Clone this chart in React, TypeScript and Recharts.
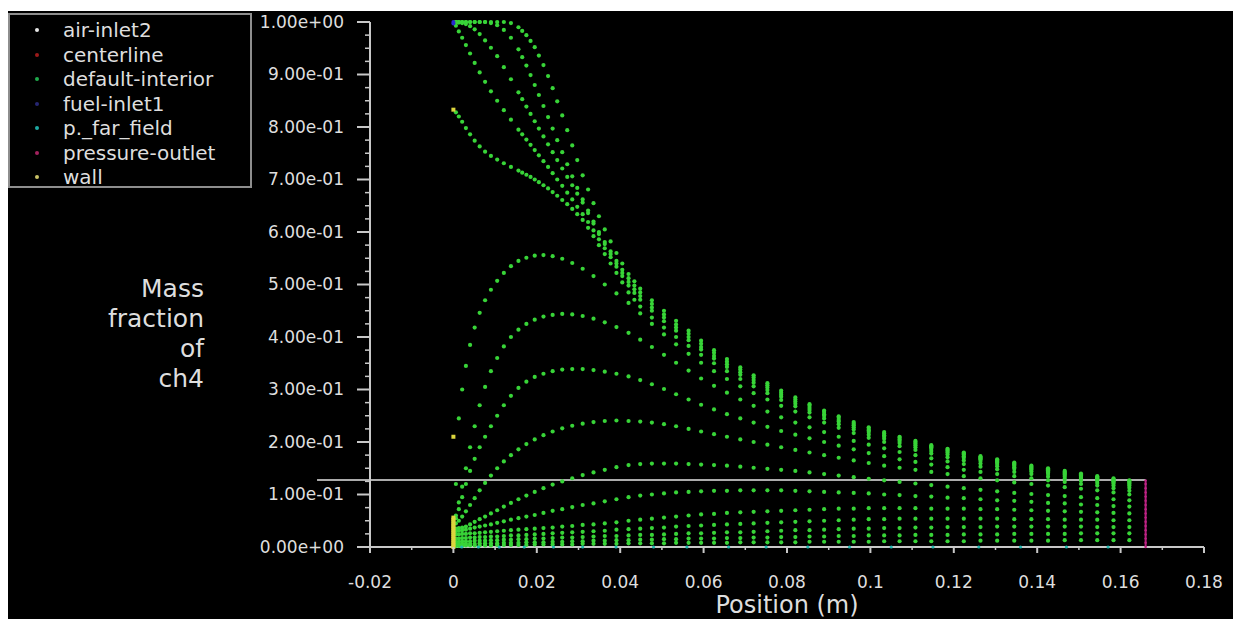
import React from "react";
import { ScatterChart, Scatter, XAxis, YAxis, ReferenceLine, Legend } from "recharts";

// axial cell-column positions (m)
const colX = [
  0.0006, 0.0013, 0.0021, 0.003, 0.004, 0.0051, 0.0063, 0.0076, 0.009, 0.0105,
  0.0121, 0.0138, 0.0156, 0.0175, 0.0195, 0.0216, 0.0238, 0.0261, 0.0285, 0.031,
  0.0336, 0.0363, 0.0391, 0.042, 0.0448, 0.0476, 0.0505, 0.0534, 0.0564, 0.0594,
  0.0625, 0.0656, 0.0688, 0.072, 0.0753, 0.0786, 0.082, 0.0854, 0.0889, 0.0924,
  0.096, 0.0996, 0.1033, 0.107, 0.1108, 0.1146, 0.1185, 0.1224, 0.1264, 0.1304,
  0.1345, 0.1386, 0.1426, 0.1466, 0.1505, 0.1544, 0.1583, 0.1621,
];

// finer columns used by the upper (fuel-jet) rows, denser where they fall steeply
const topColX = [
  0.0006, 0.0013, 0.0021, 0.003, 0.004, 0.0051, 0.0063, 0.0076, 0.009, 0.0105,
  0.0121, 0.0138, 0.0156, 0.0165, 0.0175, 0.0185, 0.0195, 0.0205, 0.0216, 0.0227,
  0.0238, 0.0249, 0.0261, 0.0273, 0.0285, 0.0297, 0.031, 0.0323, 0.0336, 0.0349,
  0.0363, 0.0377, 0.0391, 0.0405, 0.042, 0.0434, 0.0448, 0.0476, 0.0505, 0.0534,
  0.0564, 0.0594, 0.0625, 0.0656, 0.0688, 0.072, 0.0753, 0.0786, 0.082, 0.0854,
  0.0889, 0.0924, 0.096, 0.0996, 0.1033, 0.107, 0.1108, 0.1146, 0.1185, 0.1224,
  0.1264, 0.1304, 0.1345, 0.1386, 0.1426, 0.1466, 0.1505, 0.1544, 0.1583, 0.1621,
];

// ch4 mass fraction, upper rows (on topColX)
const rowT1 = [
  1, 1, 1, 1, 1, 1, 1, 1, 1, 1,
  1, 0.998, 0.99, 0.983, 0.975, 0.964, 0.952, 0.936, 0.918, 0.897,
  0.874, 0.849, 0.822, 0.794, 0.765, 0.737, 0.708, 0.681, 0.655, 0.63,
  0.605, 0.582, 0.56, 0.54, 0.52, 0.506, 0.492, 0.47, 0.45, 0.431,
  0.412, 0.393, 0.375, 0.358, 0.342, 0.327, 0.312, 0.298, 0.285, 0.272,
  0.26, 0.249, 0.238, 0.228, 0.219, 0.21, 0.202, 0.194, 0.187, 0.18,
  0.173, 0.167, 0.161, 0.155, 0.15, 0.145, 0.14, 0.135, 0.131, 0.127,
];
const rowT2 = [
  1, 1, 1, 1, 1, 1, 1, 1, 0.998, 0.994,
  0.985, 0.97, 0.948, 0.933, 0.917, 0.899, 0.88, 0.861, 0.84, 0.819,
  0.797, 0.775, 0.752, 0.729, 0.706, 0.684, 0.662, 0.641, 0.62, 0.6,
  0.581, 0.563, 0.545, 0.528, 0.512, 0.498, 0.485, 0.463, 0.443, 0.424,
  0.406, 0.387, 0.37, 0.353, 0.338, 0.323, 0.308, 0.294, 0.281, 0.269,
  0.257, 0.246, 0.235, 0.225, 0.216, 0.208, 0.2, 0.192, 0.185, 0.178,
  0.171, 0.165, 0.159, 0.153, 0.148, 0.143, 0.138, 0.133, 0.129, 0.126,
];
const rowT3 = [
  1, 0.999, 0.998, 0.996, 0.992, 0.986, 0.977, 0.965, 0.951, 0.935,
  0.914, 0.891, 0.866, 0.853, 0.839, 0.825, 0.811, 0.797, 0.782, 0.767,
  0.752, 0.737, 0.721, 0.705, 0.689, 0.673, 0.656, 0.636, 0.616, 0.596,
  0.577, 0.558, 0.54, 0.522, 0.505, 0.491, 0.478, 0.456, 0.437, 0.418,
  0.4, 0.381, 0.364, 0.348, 0.333, 0.318, 0.304, 0.29, 0.277, 0.265,
  0.253, 0.242, 0.232, 0.222, 0.213, 0.205, 0.197, 0.19, 0.183, 0.176,
  0.169, 0.163, 0.157, 0.151, 0.146, 0.141, 0.136, 0.131, 0.127, 0.124,
];
const rowT4 = [
  0.993, 0.982, 0.97, 0.956, 0.94, 0.922, 0.904, 0.886, 0.868, 0.85,
  0.832, 0.814, 0.795, 0.786, 0.776, 0.766, 0.756, 0.746, 0.735, 0.724,
  0.712, 0.7, 0.688, 0.675, 0.662, 0.648, 0.634, 0.619, 0.603, 0.586,
  0.569, 0.552, 0.534, 0.516, 0.498, 0.484, 0.471, 0.45, 0.43, 0.412,
  0.394, 0.376, 0.359, 0.343, 0.328, 0.313, 0.299, 0.286, 0.273, 0.261,
  0.25, 0.239, 0.228, 0.219, 0.21, 0.202, 0.194, 0.187, 0.18, 0.173,
  0.167, 0.161, 0.155, 0.149, 0.144, 0.139, 0.134, 0.129, 0.125, 0.122,
];
const rowE = [
  0.828, 0.82, 0.81, 0.798, 0.786, 0.774, 0.763, 0.753, 0.745, 0.738,
  0.731, 0.724, 0.717, 0.713, 0.709, 0.705, 0.7, 0.695, 0.689, 0.683,
  0.676, 0.669, 0.661, 0.653, 0.644, 0.634, 0.623, 0.608, 0.592, 0.575,
  0.558, 0.54, 0.522, 0.504, 0.485, 0.471, 0.458, 0.437, 0.418, 0.4,
  0.383, 0.366, 0.35, 0.335, 0.32, 0.306, 0.293, 0.28, 0.268, 0.256,
  0.245, 0.234, 0.224, 0.214, 0.206, 0.198, 0.19, 0.183, 0.176, 0.17,
  0.164, 0.158, 0.152, 0.147, 0.142, 0.137, 0.132, 0.128, 0.124, 0.12,
];

// ch4 mass fraction, lower rows (on colX)
const rowM1 = [
  0.12, 0.245, 0.3, 0.345, 0.385, 0.418, 0.446, 0.47, 0.49, 0.507,
  0.522, 0.535, 0.545, 0.551, 0.555, 0.556, 0.554, 0.549, 0.541, 0.53,
  0.516, 0.5, 0.483, 0.465, 0.445, 0.425, 0.405, 0.386, 0.368, 0.351,
  0.335, 0.32, 0.306, 0.293, 0.281, 0.269, 0.258, 0.247, 0.237, 0.227,
  0.217, 0.208, 0.2, 0.192, 0.185, 0.178, 0.171, 0.165, 0.159, 0.154,
  0.149, 0.144, 0.139, 0.134, 0.13, 0.126, 0.121, 0.117,
];
const rowM2 = [
  0.06, 0.085, 0.115, 0.15, 0.19, 0.23, 0.27, 0.305, 0.335, 0.36,
  0.382, 0.4, 0.414, 0.425, 0.433, 0.439, 0.442, 0.444, 0.443, 0.44,
  0.435, 0.428, 0.419, 0.408, 0.395, 0.381, 0.366, 0.351, 0.336, 0.321,
  0.307, 0.294, 0.281, 0.269, 0.258, 0.247, 0.237, 0.228, 0.219, 0.21,
  0.202, 0.195, 0.188, 0.181, 0.175, 0.169, 0.163, 0.158, 0.153, 0.148,
  0.143, 0.139, 0.134, 0.13, 0.126, 0.122, 0.117, 0.113,
];
const rowM3 = [
  0.055, 0.072, 0.095, 0.12, 0.145, 0.168, 0.19, 0.21, 0.23, 0.25,
  0.27, 0.288, 0.303, 0.315, 0.324, 0.33, 0.335, 0.338, 0.339, 0.339,
  0.337, 0.334, 0.33, 0.325, 0.318, 0.31, 0.301, 0.291, 0.281, 0.271,
  0.262, 0.253, 0.245, 0.237, 0.229, 0.221, 0.214, 0.207, 0.2, 0.193,
  0.186, 0.179, 0.173, 0.167, 0.162, 0.157, 0.152, 0.147, 0.143, 0.139,
  0.135, 0.131, 0.127, 0.124, 0.12, 0.117, 0.112, 0.107,
];
const rowM4 = [
  0.045, 0.05, 0.058, 0.068, 0.08, 0.093, 0.108, 0.122, 0.136, 0.15,
  0.163, 0.175, 0.186, 0.196, 0.205, 0.213, 0.22, 0.226, 0.231, 0.235,
  0.238, 0.24, 0.241, 0.24, 0.239, 0.237, 0.234, 0.23, 0.225, 0.22,
  0.215, 0.21, 0.205, 0.2, 0.195, 0.19, 0.185, 0.18, 0.175, 0.17,
  0.165, 0.16, 0.155, 0.151, 0.147, 0.143, 0.139, 0.135, 0.131, 0.127,
  0.123, 0.12, 0.117, 0.114, 0.111, 0.108, 0.104, 0.1,
];
const rowM5 = [
  0.035, 0.036, 0.037, 0.039, 0.043, 0.048, 0.053, 0.058, 0.064, 0.07,
  0.077, 0.084, 0.091, 0.098, 0.105, 0.112, 0.119, 0.125, 0.131, 0.137,
  0.142, 0.147, 0.152, 0.156, 0.158, 0.159, 0.159, 0.159, 0.158, 0.157,
  0.156, 0.155, 0.153, 0.151, 0.149, 0.147, 0.145, 0.142, 0.139, 0.136,
  0.133, 0.13, 0.127, 0.124, 0.121, 0.118, 0.115, 0.112, 0.109, 0.106,
  0.103, 0.101, 0.099, 0.097, 0.095, 0.093, 0.091, 0.089,
];
const rowM6 = [
  0.03, 0.031, 0.032, 0.033, 0.035, 0.037, 0.039, 0.041, 0.043, 0.046,
  0.049, 0.052, 0.055, 0.058, 0.061, 0.065, 0.069, 0.072, 0.076, 0.08,
  0.083, 0.087, 0.091, 0.095, 0.098, 0.1, 0.102, 0.104, 0.105, 0.106,
  0.107, 0.107, 0.108, 0.108, 0.108, 0.108, 0.107, 0.106, 0.105, 0.104,
  0.103, 0.102, 0.1, 0.099, 0.097, 0.096, 0.094, 0.093, 0.091, 0.089,
  0.088, 0.086, 0.084, 0.083, 0.081, 0.08, 0.078, 0.077,
];
const rowM7 = [
  0.024, 0.024, 0.025, 0.025, 0.026, 0.026, 0.027, 0.028, 0.029, 0.03,
  0.031, 0.032, 0.033, 0.034, 0.035, 0.036, 0.037, 0.039, 0.04, 0.042,
  0.043, 0.045, 0.047, 0.05, 0.052, 0.054, 0.056, 0.058, 0.06, 0.062,
  0.063, 0.065, 0.066, 0.067, 0.068, 0.069, 0.07, 0.071, 0.072, 0.073,
  0.073, 0.074, 0.074, 0.074, 0.074, 0.073, 0.073, 0.073, 0.072, 0.072,
  0.071, 0.07, 0.069, 0.068, 0.067, 0.066, 0.065, 0.064,
];
const rowM8 = [
  0.016, 0.016, 0.017, 0.017, 0.018, 0.018, 0.019, 0.019, 0.02, 0.02,
  0.021, 0.022, 0.022, 0.023, 0.024, 0.025, 0.026, 0.027, 0.028, 0.029,
  0.03, 0.031, 0.033, 0.034, 0.035, 0.036, 0.037, 0.039, 0.04, 0.041,
  0.042, 0.043, 0.044, 0.045, 0.046, 0.047, 0.048, 0.049, 0.05, 0.051,
  0.052, 0.053, 0.053, 0.054, 0.054, 0.054, 0.054, 0.054, 0.054, 0.054,
  0.053, 0.053, 0.053, 0.052, 0.052, 0.052, 0.051, 0.051,
];
const rowB1 = [
  0.01, 0.01, 0.011, 0.011, 0.011, 0.012, 0.012, 0.012, 0.013, 0.013,
  0.014, 0.014, 0.015, 0.015, 0.016, 0.016, 0.017, 0.018, 0.018, 0.019,
  0.02, 0.021, 0.021, 0.022, 0.023, 0.023, 0.024, 0.025, 0.026, 0.026,
  0.027, 0.028, 0.028, 0.029, 0.03, 0.031, 0.032, 0.032, 0.033, 0.034,
  0.035, 0.035, 0.036, 0.036, 0.037, 0.037, 0.038, 0.038, 0.038, 0.039,
  0.039, 0.039, 0.039, 0.039, 0.039, 0.038, 0.038, 0.038,
];
const rowB2 = [
  0.005, 0.005, 0.006, 0.006, 0.006, 0.006, 0.007, 0.007, 0.007, 0.007,
  0.008, 0.008, 0.008, 0.009, 0.009, 0.009, 0.01, 0.01, 0.011, 0.011,
  0.012, 0.012, 0.013, 0.013, 0.014, 0.014, 0.015, 0.015, 0.016, 0.016,
  0.016, 0.017, 0.017, 0.018, 0.018, 0.019, 0.019, 0.02, 0.02, 0.021,
  0.021, 0.022, 0.022, 0.022, 0.023, 0.023, 0.023, 0.024, 0.024, 0.024,
  0.025, 0.025, 0.025, 0.025, 0.026, 0.026, 0.026, 0.026,
];
const rowB3 = [
  0.002, 0.002, 0.002, 0.003, 0.003, 0.003, 0.003, 0.003, 0.003, 0.004,
  0.004, 0.004, 0.004, 0.004, 0.005, 0.005, 0.005, 0.005, 0.005, 0.006,
  0.006, 0.006, 0.006, 0.007, 0.007, 0.007, 0.007, 0.008, 0.008, 0.008,
  0.008, 0.008, 0.009, 0.009, 0.009, 0.009, 0.009, 0.01, 0.01, 0.01,
  0.01, 0.01, 0.011, 0.011, 0.011, 0.011, 0.011, 0.011, 0.012, 0.012,
  0.012, 0.012, 0.012, 0.013, 0.013, 0.013, 0.013, 0.013,
];

const upperRows = [rowT1, rowT2, rowT3, rowT4, rowE];
const lowerRows = [rowM1, rowM2, rowM3, rowM4, rowM5, rowM6, rowM7, rowM8, rowB1, rowB2, rowB3];

// boundary zones
const wallY = [0, 0.004, 0.008, 0.012, 0.016, 0.02, 0.024, 0.028, 0.032, 0.036, 0.04, 0.044, 0.048, 0.052, 0.056, 0.21, 0.833];
const fuelInletY = [1.0, 0.997];
const farFieldX = [
  0.002, 0.006, 0.011, 0.017, 0.024, 0.031, 0.039, 0.048, 0.056, 0.066,
  0.075, 0.085, 0.095, 0.105, 0.115, 0.126, 0.136, 0.147, 0.157,
];
const outletX = 0.166;
const outletY = [0, 0.008, 0.016, 0.024, 0.032, 0.04, 0.048, 0.056, 0.064, 0.072, 0.08, 0.088, 0.096, 0.104, 0.112, 0.12, 0.127];
const airInletX = [-0.0327, 0.166];
const airInletLevel = 0.1276;

const legendNames = ["air-inlet2", "centerline", "default-interior", "fuel-inlet1", "p._far_field", "pressure-outlet", "wall"];
const legendColors = ["#e6e6e6", "#9c1a1a", "#1faa4c", "#262672", "#1ea8a2", "#a3225e", "#c9c266"];

const yMajorTicks = [0, 0.1, 0.2, 0.3, 0.4, 0.5, 0.6, 0.7, 0.8, 0.9, 1.0];
const yTickLabels = [
  "0.00e+00", "1.00e-01", "2.00e-01", "3.00e-01", "4.00e-01", "5.00e-01",
  "6.00e-01", "7.00e-01", "8.00e-01", "9.00e-01", "1.00e+00",
];
const yMinorTicks = yMajorTicks.slice(0, -1).flatMap((v) => [v + 0.025, v + 0.05, v + 0.075]);
const xMajorTicks = [-0.02, 0, 0.02, 0.04, 0.06, 0.08, 0.1, 0.12, 0.14, 0.16, 0.18];
const xTickLabels = ["-0.02", "0", "0.02", "0.04", "0.06", "0.08", "0.1", "0.12", "0.14", "0.16", "0.18"];
const xMinorTicks = [-0.01, 0.01, 0.03, 0.05, 0.07, 0.09, 0.11, 0.13, 0.15, 0.17];
const yLabelLines = ["Mass", "fraction", "of", "ch4"];

const interiorData = [
  ...upperRows.flatMap((row) => row.map((y, i) => ({ x: topColX[i], y }))),
  ...lowerRows.flatMap((row) => row.map((y, i) => ({ x: colX[i], y }))),
];
const wallData = wallY.map((y) => ({ x: 0, y }));
const fuelData = fuelInletY.map((y) => ({ x: 0, y }));
const farFieldData = farFieldX.map((x) => ({ x, y: 0 }));
const outletData = outletY.map((y) => ({ x: outletX, y }));

const FONT = "DejaVu Sans, sans-serif";
const AXIS = "#c8c8c8";
const TEXT = "#dedede";
const GREEN = "#38d438";

const near = (list: number[], v: number) => list.findIndex((t) => Math.abs(t - v) < 1e-6);

const YTick = ({ x, y, payload }: any) => {
  const i = near(yMajorTicks, payload.value);
  if (i < 0) return <line x1={x - 5} y1={y} x2={x} y2={y} stroke={AXIS} strokeWidth={1.5} />;
  return (
    <g>
      <line x1={x - 13} y1={y} x2={x} y2={y} stroke={AXIS} strokeWidth={2} />
      <text x={x - 26} y={y} dy="0.35em" textAnchor="end" fill={TEXT} fontSize={17} fontFamily={FONT}>
        {yTickLabels[i]}
      </text>
    </g>
  );
};

const XTick = ({ x, y, payload }: any) => {
  const i = near(xMajorTicks, payload.value);
  if (i < 0) return <line x1={x} y1={y} x2={x} y2={y + 3} stroke={AXIS} strokeWidth={1.5} />;
  return (
    <g>
      <line x1={x} y1={y} x2={x} y2={y + 6} stroke={AXIS} strokeWidth={2} />
      <text x={x} y={y + 35} dy="0.35em" textAnchor="middle" fill={TEXT} fontSize={17} fontFamily={FONT}>
        {xTickLabels[i]}
      </text>
    </g>
  );
};

const XLabel = (props: any) => {
  const vb = props.viewBox || { x: 362, y: 536, width: 834 };
  return (
    <text x={vb.x + vb.width / 2} y={vb.y + 66} textAnchor="middle" fill={TEXT} fontSize={24} fontFamily={FONT}>
      Position (m)
    </text>
  );
};

const YLabel = () => (
  <text textAnchor="end" fill={TEXT} fontSize={25} fontFamily={FONT}>
    {yLabelLines.map((s, i) => (
      <tspan key={s} x={196} y={286 + i * 30}>
        {s}
      </tspan>
    ))}
  </text>
);

const LegendBox = () => (
  <div
    style={{
      position: "relative",
      width: 244,
      height: 175,
      boxSizing: "border-box",
      border: "2px solid #8e8e8e",
      background: "#000",
      fontFamily: FONT,
      fontSize: 20,
      color: TEXT,
    }}
  >
    {legendNames.map((name, i) => (
      <div key={name} style={{ position: "absolute", left: 0, top: 3 + i * 24.5, height: 24, width: 240 }}>
        <span
          style={{
            position: "absolute",
            left: 25,
            top: 10,
            width: 4,
            height: 4,
            borderRadius: 2,
            background: legendColors[i],
          }}
        />
        <span style={{ position: "absolute", left: 53, top: 0, lineHeight: "24px", whiteSpace: "nowrap" }}>{name}</span>
      </div>
    ))}
  </div>
);

const dot = (r: number, fill: string) => (p: any) => <circle cx={p.cx} cy={p.cy} r={r} fill={fill} />;
const square = (s: number, fill: string) => (p: any) => <rect x={p.cx - s / 2} y={p.cy - s / 2} width={s} height={s} fill={fill} />;

export default function App() {
  return (
    <div style={{ position: "absolute", left: 8, top: 11, width: 1225, height: 608, background: "#000" }}>
      <ScatterChart width={1225} height={608} margin={{ top: 11, right: 29, bottom: 0, left: 0 }}>
        <XAxis
          type="number"
          dataKey="x"
          domain={[-0.02, 0.18]}
          ticks={[...xMajorTicks, ...xMinorTicks].sort((a, b) => a - b)}
          interval={0}
          height={72}
          tickSize={0}
          tickMargin={0}
          tickLine={false}
          axisLine={{ stroke: AXIS, strokeWidth: 2 }}
          tick={<XTick />}
          label={<XLabel />}
        />
        <YAxis
          type="number"
          dataKey="y"
          domain={[0, 1]}
          ticks={[...yMajorTicks, ...yMinorTicks].sort((a, b) => a - b)}
          interval={0}
          width={362}
          tickSize={0}
          tickMargin={0}
          tickLine={false}
          axisLine={{ stroke: AXIS, strokeWidth: 2 }}
          tick={<YTick />}
          label={<YLabel />}
        />
        <ReferenceLine
          segment={[
            { x: airInletX[0], y: airInletLevel },
            { x: airInletX[1], y: airInletLevel },
          ]}
          stroke="#ababab"
          strokeWidth={2}
          ifOverflow="visible"
        />
        <Scatter name="default-interior" data={interiorData} shape={dot(2.1, GREEN)} isAnimationActive={false} />
        <Scatter name="p._far_field" data={farFieldData} shape={dot(1.6, "#22b8b0")} isAnimationActive={false} />
        <Scatter
          name="pressure-outlet"
          data={outletData}
          line={{ stroke: "#b5207e", strokeWidth: 2 }}
          shape={dot(1.2, "#c02486")}
          isAnimationActive={false}
        />
        <Scatter name="wall" data={wallData} shape={square(4, "#dcd63e")} isAnimationActive={false} />
        <Scatter name="fuel-inlet1" data={fuelData} shape={dot(2, "#2a2ad0")} isAnimationActive={false} />
        <Legend
          layout="horizontal"
          verticalAlign="middle"
          align="center"
          wrapperStyle={{ top: 2, left: 0, width: 244, height: 175 }}
          content={<LegendBox />}
        />
      </ScatterChart>
    </div>
  );
}
